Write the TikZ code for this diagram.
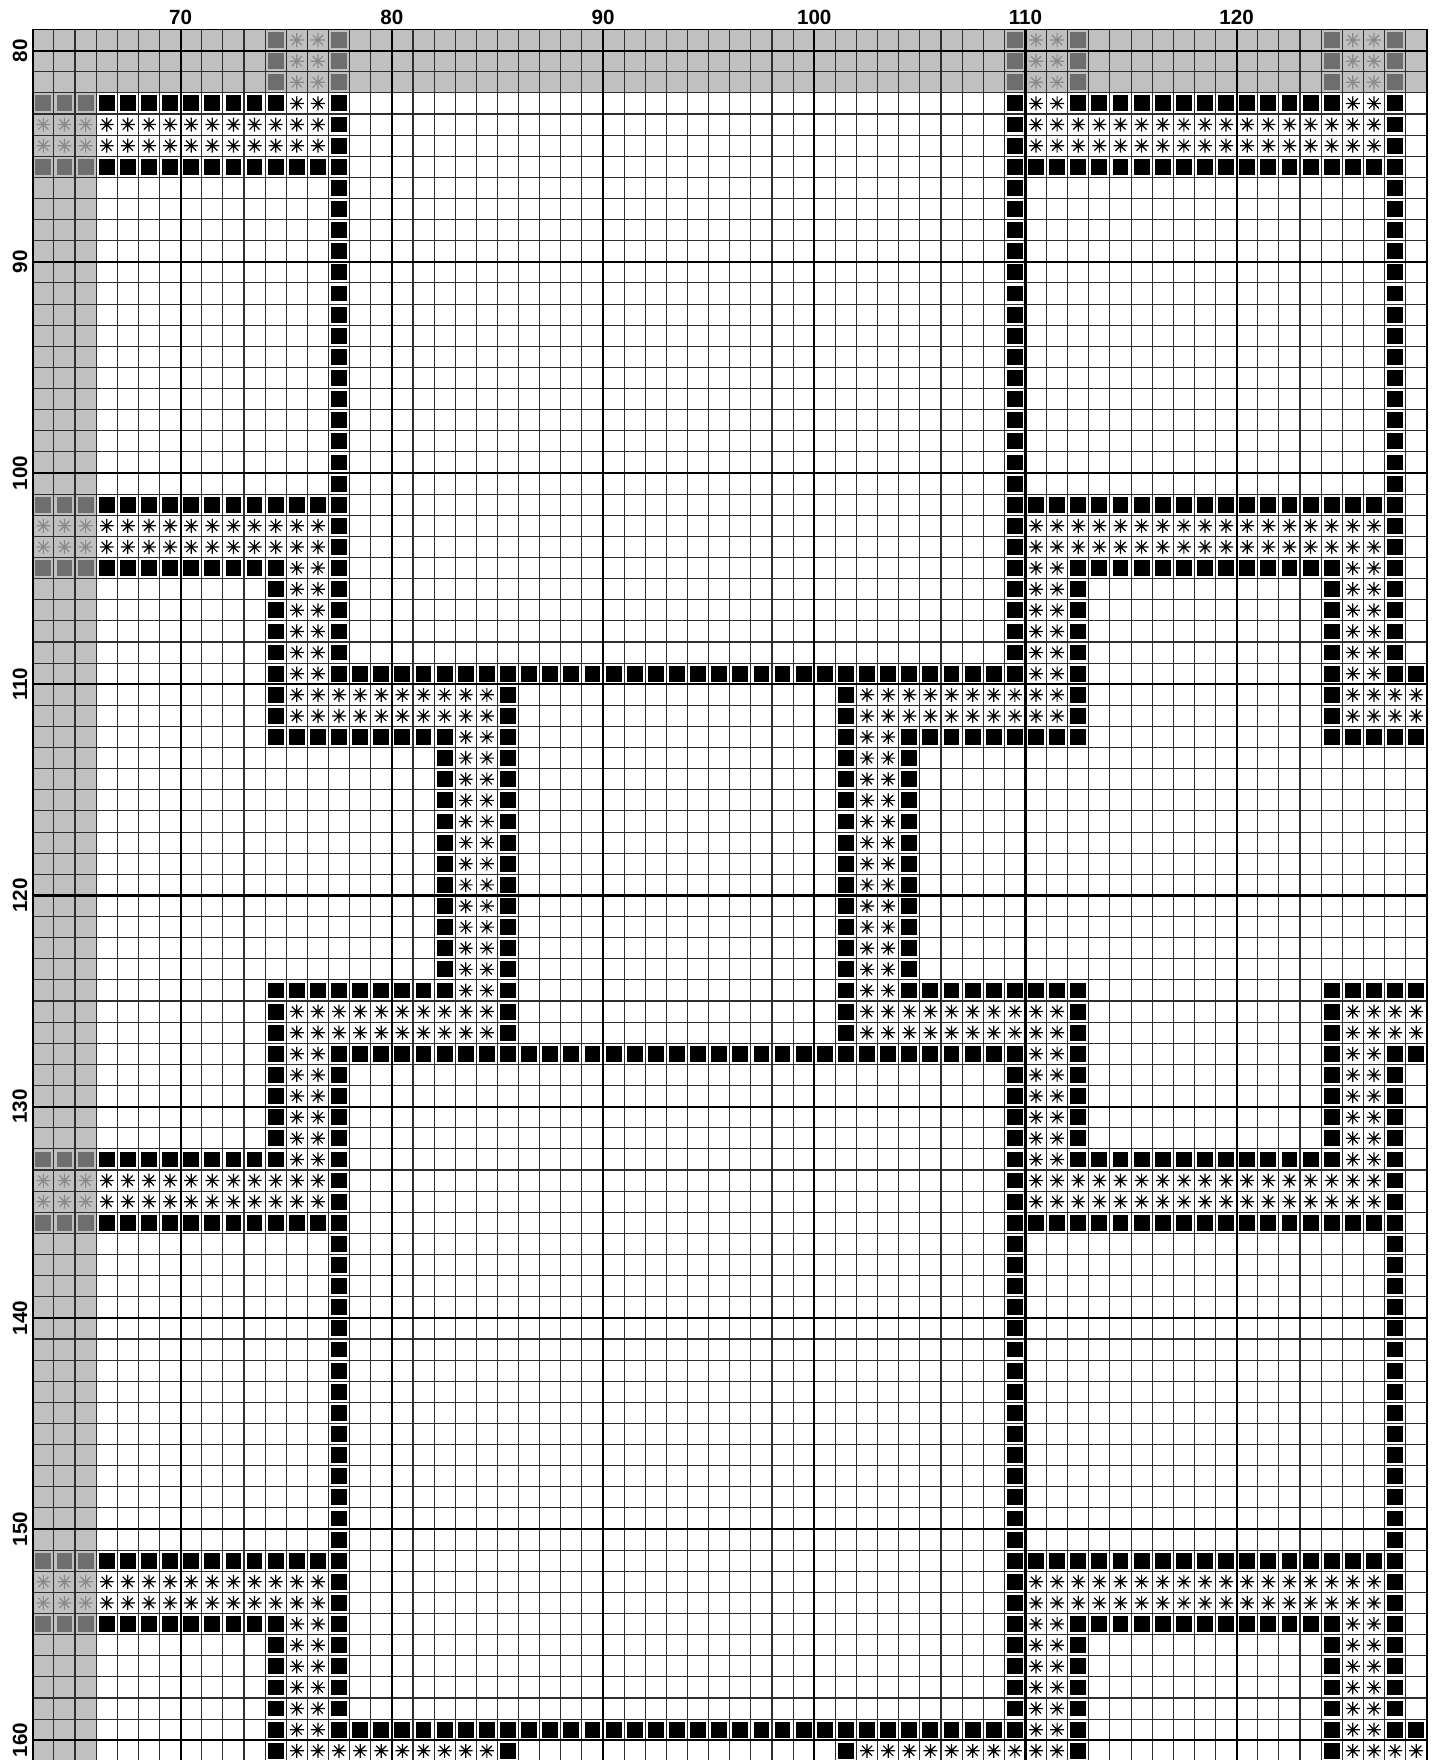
\documentclass[tikz,border=0pt]{standalone}
\usepackage{fontspec}
\setmainfont{Liberation Sans}
\definecolor{zonebg}{HTML}{C0C0C0}
\definecolor{zonesq}{HTML}{6E6E6E}
\definecolor{zonestar}{HTML}{8A8A8A}
\definecolor{gridc}{HTML}{2E2E2E}
\newif\ifgz
\newcommand\setgz[2]{\gzfalse\ifnum#1<3 \gztrue\fi\ifnum#2<3 \gztrue\fi}
\newcommand\cellB[2]{%
 \ifnum#1<66 \ifnum#2<82
  \setgz{#1}{#2}%
  \ifgz\def\sqc{zonesq}\else\def\sqc{black}\fi
  \fill[\sqc] (#1+0.125,#2+0.125) rectangle (#1+0.875,#2+0.875);
 \fi\fi}
\newcommand\cellS[2]{%
 \ifnum#1<66 \ifnum#2<82
  \setgz{#1}{#2}%
  \ifgz\def\stc{zonestar}\else\def\stc{black}\fi
  \draw[\stc,line width=0.6pt,shift={(#1+0.5,#2+0.5)}] (-0.33,0)--(0.33,0) (0,-0.33)--(0,0.33) (-0.24,-0.24)--(0.24,0.24) (-0.24,0.24)--(0.24,-0.24);
  \fill[\stc] (#1+0.5,#2+0.5) circle (0.075);
 \fi\fi}
\newcommand\pblk[5]{%
 \foreach \dc in {0,50}{\foreach \dr in {0,50}{%
  \foreach \cx in {#2,...,#3}{\foreach \rx in {#4,...,#5}{%
   \edef\pcc{\the\numexpr\cx+\dc\relax}\edef\prr{\the\numexpr\rx+\dr\relax}%
   \csname cell#1\endcsname{\pcc}{\prr}%
  }}}}}
\newcommand\rowA[2]{\pblk{B}{11}{11}{#1}{#2}\pblk{S}{12}{13}{#1}{#2}\pblk{B}{14}{14}{#1}{#2}\pblk{B}{46}{46}{#1}{#2}\pblk{S}{47}{48}{#1}{#2}\pblk{B}{49}{49}{#1}{#2}}
\newcommand\rowB[1]{\pblk{B}{0}{11}{#1}{#1}\pblk{S}{12}{13}{#1}{#1}\pblk{B}{14}{14}{#1}{#1}\pblk{B}{46}{46}{#1}{#1}\pblk{S}{47}{48}{#1}{#1}\pblk{B}{49}{49}{#1}{#1}}
\newcommand\rowF[2]{\pblk{S}{0}{13}{#1}{#2}\pblk{B}{14}{14}{#1}{#2}\pblk{B}{46}{46}{#1}{#2}\pblk{S}{47}{49}{#1}{#2}}
\newcommand\rowG[1]{\pblk{B}{0}{14}{#1}{#1}\pblk{B}{46}{49}{#1}{#1}}
\newcommand\rowH[2]{\pblk{B}{14}{14}{#1}{#2}\pblk{B}{46}{46}{#1}{#2}}
\newcommand\rowC[1]{\pblk{B}{11}{11}{#1}{#1}\pblk{S}{12}{13}{#1}{#1}\pblk{B}{14}{46}{#1}{#1}\pblk{S}{47}{48}{#1}{#1}\pblk{B}{49}{49}{#1}{#1}}
\newcommand\rowD[2]{\pblk{B}{11}{11}{#1}{#2}\pblk{S}{12}{21}{#1}{#2}\pblk{B}{22}{22}{#1}{#2}\pblk{B}{38}{38}{#1}{#2}\pblk{S}{39}{48}{#1}{#2}\pblk{B}{49}{49}{#1}{#2}}
\newcommand\rowE[1]{\pblk{B}{11}{19}{#1}{#1}\pblk{S}{20}{21}{#1}{#1}\pblk{B}{22}{22}{#1}{#1}\pblk{B}{38}{38}{#1}{#1}\pblk{S}{39}{40}{#1}{#1}\pblk{B}{41}{49}{#1}{#1}}
\newcommand\rowI[2]{\pblk{B}{19}{19}{#1}{#2}\pblk{S}{20}{21}{#1}{#2}\pblk{B}{22}{22}{#1}{#2}\pblk{B}{38}{38}{#1}{#2}\pblk{S}{39}{40}{#1}{#2}\pblk{B}{41}{41}{#1}{#2}}
\begin{document}
\begin{tikzpicture}[x=0.5pt,y=-0.5pt]
\useasboundingbox (0,0) rectangle (1439,1760);
\clip (0,0) rectangle (1439,1760);
\fill[white] (0,0) rectangle (1439,1760);
\begin{scope}[shift={(16.4pt,-14.75pt)},x=10.56pt,y=-10.56pt]
 % shaded overlap zone
 \fill[zonebg] (0,0) rectangle (66,3);
 \fill[zonebg] (0,0) rectangle (3,82);
 % grid
 \foreach \b in {0,...,66} \draw[gridc,line width=0.55pt] (\b,0) -- (\b,82);
 \foreach \b in {0,...,82} \draw[gridc,line width=0.55pt] (0,\b) -- (66,\b);
 \foreach \b in {7,17,...,57} \draw[black,line width=1.1pt] (\b,0) -- (\b,82);
 \foreach \b in {1,11,...,81} \draw[black,line width=1.1pt] (0,\b) -- (66,\b);
 \draw[black,line width=0.8pt] (0,0) rectangle (66,82);
 % pattern
 \rowA{0}{2}
 \rowB{3}
 \rowF{4}{5}
 \rowG{6}
 \rowH{7}{21}
 \rowG{22}
 \rowF{23}{24}
 \rowB{25}
 \rowA{26}{29}
 \rowC{30}
 \rowD{31}{32}
 \rowE{33}
 \rowI{34}{44}
 \rowE{45}
 \rowD{46}{47}
 \rowC{48}
 \rowA{49}{49}
 % labels
 \foreach \b/\t in {7/70,17/80,27/90,37/100,47/110,57/120}
   \node[font=\bfseries\fontsize{10.3}{12}\selectfont,inner sep=0pt] (col\t) at (\b,-0.59) {\t};
 \foreach \b/\t in {1/80,11/90,21/100,31/110,41/120,51/130,61/140,71/150,81/160}
   \node[font=\bfseries\fontsize{10.3}{12}\selectfont,inner sep=0pt,rotate=90] (row\t) at (-0.61,\b) {\t};
\end{scope}
\end{tikzpicture}
\end{document}
